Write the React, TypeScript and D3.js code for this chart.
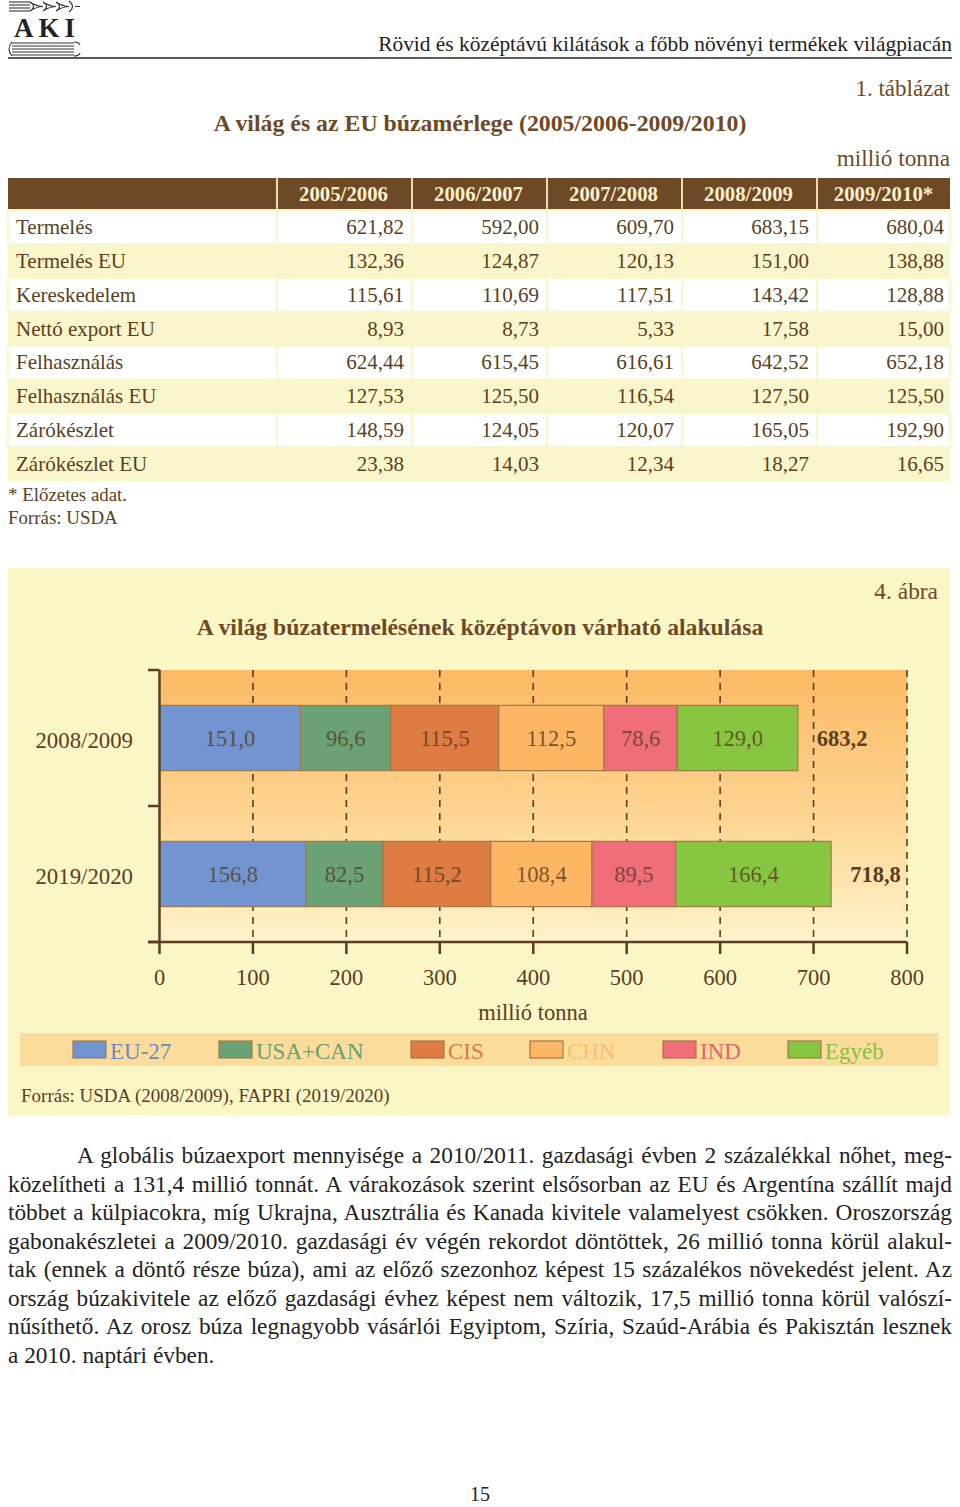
import React, { useLayoutEffect, useRef } from "react";
import * as d3 from "d3";

// ---------- Data ----------
const tableYears = ["2005/2006", "2006/2007", "2007/2008", "2008/2009", "2009/2010*"];
const tableRowLabels = [
  "Termelés",
  "Termelés EU",
  "Kereskedelem",
  "Nettó export EU",
  "Felhasználás",
  "Felhasználás EU",
  "Zárókészlet",
  "Zárókészlet EU",
];
const termeles = [621.82, 592.0, 609.7, 683.15, 680.04];
const termelesEU = [132.36, 124.87, 120.13, 151.0, 138.88];
const kereskedelem = [115.61, 110.69, 117.51, 143.42, 128.88];
const nettoExportEU = [8.93, 8.73, 5.33, 17.58, 15.0];
const felhasznalas = [624.44, 615.45, 616.61, 642.52, 652.18];
const felhasznalasEU = [127.53, 125.5, 116.54, 127.5, 125.5];
const zarokeszlet = [148.59, 124.05, 120.07, 165.05, 192.9];
const zarokeszletEU = [23.38, 14.03, 12.34, 18.27, 16.65];
const tableValues = [termeles, termelesEU, kereskedelem, nettoExportEU, felhasznalas, felhasznalasEU, zarokeszlet, zarokeszletEU];

const categories = ["2008/2009", "2019/2020"];
const seriesNames = ["EU-27", "USA+CAN", "CIS", "CHN", "IND", "Egyéb"];
const values2008 = [151.0, 96.6, 115.5, 112.5, 78.6, 129.0];
const values2019 = [156.8, 82.5, 115.2, 108.4, 89.5, 166.4];
const xTicks = [0, 100, 200, 300, 400, 500, 600, 700, 800];

const paragraphLines = [
  "A globális búzaexport mennyisége a 2010/2011. gazdasági évben 2 százalékkal nőhet, meg-",
  "közelítheti a 131,4 millió tonnát. A várakozások szerint elsősorban az EU és Argentína szállít majd",
  "többet a külpiacokra, míg Ukrajna, Ausztrália és Kanada kivitele valamelyest csökken. Oroszország",
  "gabonakészletei a 2009/2010. gazdasági év végén rekordot döntöttek, 26 millió tonna körül alakul-",
  "tak (ennek a döntő része búza), ami az előző szezonhoz képest 15 százalékos növekedést jelent. Az",
  "ország búzakivitele az előző gazdasági évhez képest nem változik, 17,5 millió tonna körül valószí-",
  "nűsíthető. Az orosz búza legnagyobb vásárlói Egyiptom, Szíria, Szaúd-Arábia és Pakisztán lesznek",
  "a 2010. naptári évben.",
];

// ---------- Styles ----------
const FONT = "'Liberation Serif', 'Times New Roman', serif";
const BROWN = "#6d4a26";
const TEXT = "#5a3f22";
const seriesColors = ["#7294d0", "#6aa275", "#de7c44", "#fdb664", "#f06e79", "#88c540"];
const legendTextColors = ["#7088c0", "#65a06e", "#dc7a44", "#f5c170", "#de6470", "#86bf45"];

const locale = d3.formatLocale({ decimal: ",", thousands: " ", grouping: [3], currency: ["", ""] });
const fmt2 = locale.format(".2f");
const fmt1 = locale.format(".1f");

function JustifiedLine({ text, x, y, width, justify }: { text: string; x: number; y: number; width: number; justify: boolean }) {
  const ref = useRef<SVGTextElement>(null);
  useLayoutEffect(() => {
    const el = ref.current;
    if (!el || !justify) return;
    el.setAttribute("word-spacing", "0");
    const natural = el.getComputedTextLength();
    const spaces = (text.match(/ /g) || []).length;
    if (spaces > 0) {
      const ws = (width - natural) / spaces;
      el.setAttribute("word-spacing", String(ws));
    }
  }, [text, width, justify]);
  return (
    <text ref={ref} x={x} y={y} fontSize={23.3} fill="#222" style={{ whiteSpace: "pre" }}>
      {text}
    </text>
  );
}

export default function App() {
  // Table scales
  const colX = d3.scaleBand<string>().domain(tableYears).range([277, 952]);
  const rowY = d3.scaleBand<string>().domain(tableRowLabels).range([210, 481]);

  // Chart scales
  const x = d3.scaleLinear().domain([0, 800]).range([159.5, 907]);
  const y = d3.scaleBand<string>().domain(categories).range([670, 942]).paddingInner(0.52).paddingOuter(0.26);
  const rows = categories.map((c, i) => {
    const vals = i === 0 ? values2008 : values2019;
    const obj: any = { cat: c };
    seriesNames.forEach((s, j) => (obj[s] = vals[j]));
    return obj;
  });
  const stack = d3.stack<any>().keys(seriesNames)(rows);
  const totals = categories.map((c, i) => d3.sum(i === 0 ? values2008 : values2019));

  const legendX = [73, 219, 411, 530, 663, 788];

  return (
    <svg width={960} height={1507} style={{ position: "absolute", left: 0, top: 0, display: "block", background: "#fff" }} fontFamily={FONT}>
      <defs>
        <linearGradient id="plotGrad" x1="0" y1="0" x2="0" y2="1">
          <stop offset="0" stopColor="#fcba64" />
          <stop offset="0.5" stopColor="#fdd28e" />
          <stop offset="1" stopColor="#fdf4cb" />
        </linearGradient>
      </defs>

      {/* Logo */}
      <g stroke="#333" fill="none" strokeWidth={1.1}>
        {[2, 5, 8, 11].map((yy) => (
          <line key={yy} x1={9} x2={30} y1={yy} y2={yy} />
        ))}
        {[30, 43, 56].map((xx) => (
          <path key={xx} d={`M${xx},2 q7,4.5 0,9 M${xx},2 q7,4.5 13,4.5 q-6,0 -13,4.5`} />
        ))}
        <path d="M69,1 q7,5.5 0,11 M75,6.5 h5" />
      </g>
      <text x={14} y={37} fontSize={27} fontWeight="bold" fill="#222" letterSpacing={5}>AKI</text>
      <g stroke="#333" fill="none" strokeWidth={1.1}>
        {[43, 46, 49, 52, 55].map((yy) => (
          <line key={yy} x1={12} x2={74} y1={yy} y2={yy} />
        ))}
        <path d="M12,42 q-6,7 0,14 M74,42 q5,0 6,3 M74,56 q5,0 6,-3" />
      </g>

      {/* Header */}
      <text x={952} y={51} fontSize={21.4} textAnchor="end" fill="#222">
        Rövid és középtávú kilátások a főbb növényi termékek világpiacán
      </text>
      <line x1={8} x2={952} y1={58} y2={58} stroke="#222" strokeWidth={1.5} />

      <text x={950} y={96} fontSize={23} textAnchor="end" fill={BROWN}>1. táblázat</text>
      <text x={480} y={131} fontSize={23.8} fontWeight="bold" textAnchor="middle" fill={BROWN}>
        A világ és az EU búzamérlege (2005/2006-2009/2010)
      </text>
      <text x={950} y={166} fontSize={23.3} textAnchor="end" fill={BROWN}>millió tonna</text>

      {/* Table */}
      <rect x={8} y={178} width={942} height={32} fill="#6e4925" />
      {[277, ...tableYears.slice(1).map((yr) => colX(yr)!)].map((xx, i) => (
        <line key={i} x1={xx} x2={xx} y1={178} y2={210} stroke="#e9dcb0" strokeWidth={2} />
      ))}
      {tableYears.map((yr) => (
        <text key={yr} x={colX(yr)! + colX.bandwidth() / 2 - 1} y={201} fontSize={20.8} fontWeight="bold" textAnchor="middle" fill="#fbf0cc">
          {yr}
        </text>
      ))}
      {tableRowLabels.map((lab, i) => {
        const yy = rowY(lab)!;
        const h = rowY.bandwidth();
        const yellow = i % 2 === 1;
        return (
          <g key={lab}>
            <rect x={8} y={yy} width={942} height={h} fill={yellow ? "#faf6cb" : "#ffffff"} stroke={yellow ? "none" : "#faf6cb"} strokeWidth={2} />
            {!yellow &&
              [277, ...tableYears.slice(1).map((yr) => colX(yr)!)].map((xx, k) => (
                <line key={k} x1={xx} x2={xx} y1={yy} y2={yy + h} stroke="#faf6cb" strokeWidth={2} />
              ))}
            <text x={16} y={yy + h / 2 + 7} fontSize={21} fill={TEXT}>{lab}</text>
            {tableValues[i].map((v, j) => (
              <text key={j} x={colX(tableYears[j])! + colX.bandwidth() - 8} y={yy + h / 2 + 7} fontSize={21} textAnchor="end" fill={TEXT}>
                {fmt2(v)}
              </text>
            ))}
          </g>
        );
      })}
      <text x={8} y={501} fontSize={18.9} fill={TEXT}>* Előzetes adat.</text>
      <text x={8} y={524} fontSize={18.9} fill={TEXT}>Forrás: USDA</text>

      {/* Chart panel */}
      <rect x={8} y={568} width={942} height={547} fill="#faf6c6" />
      <text x={938} y={599} fontSize={23.4} textAnchor="end" fill={BROWN}>4. ábra</text>
      <text x={480} y={635} fontSize={23.7} fontWeight="bold" textAnchor="middle" fill={BROWN}>
        A világ búzatermelésének középtávon várható alakulása
      </text>

      <rect x={x(0)} y={670} width={x(800) - x(0)} height={272} fill="url(#plotGrad)" />
      {xTicks.slice(1).map((t) => (
        <line key={t} x1={x(t)} x2={x(t)} y1={670} y2={942} stroke="#5b3d1f" strokeWidth={1.6} strokeDasharray="7,6" />
      ))}

      {stack.map((layer, si) =>
        layer.map((d, ci) => (
          <rect
            key={`${si}-${ci}`}
            x={x(d[0])}
            y={y(categories[ci])}
            width={x(d[1]) - x(d[0])}
            height={y.bandwidth()}
            fill={seriesColors[si]}
            stroke="#a07a48"
            strokeWidth={1.2}
          />
        ))
      )}
      {stack.map((layer, si) =>
        layer.map((d, ci) => (
          <text
            key={`t${si}-${ci}`}
            x={(x(d[0]) + x(d[1])) / 2}
            y={y(categories[ci])! + y.bandwidth() / 2 + 7.5}
            fontSize={22.5}
            textAnchor="middle"
            fill="#5a3e22"
            fillOpacity={0.82}
          >
            {fmt1(d[1] - d[0])}
          </text>
        ))
      )}
      {totals.map((t, ci) => (
        <text key={ci} x={x(t) + 19} y={y(categories[ci])! + y.bandwidth() / 2 + 7.5} fontSize={22.5} fontWeight="bold" fill="#5a3e22">
          {fmt1(t)}
        </text>
      ))}
      {categories.map((c) => (
        <text key={c} x={133} y={y(c)! + y.bandwidth() / 2 + 10} fontSize={22.8} textAnchor="end" fill={TEXT}>
          {c}
        </text>
      ))}

      {/* Axes */}
      <line x1={x(0)} x2={x(0)} y1={670} y2={942} stroke="#5b3d1f" strokeWidth={2.5} />
      {[670, 806, 942].map((yy) => (
        <line key={yy} x1={148} x2={x(0)} y1={yy} y2={yy} stroke="#5b3d1f" strokeWidth={2.5} />
      ))}
      <line x1={148} x2={x(800)} y1={942} y2={942} stroke="#5b3d1f" strokeWidth={2.5} />
      {xTicks.map((t) => (
        <g key={t}>
          <line x1={x(t)} x2={x(t)} y1={942} y2={954} stroke="#5b3d1f" strokeWidth={2.5} />
          <text x={x(t)} y={985} fontSize={22.5} textAnchor="middle" fill={TEXT}>{t}</text>
        </g>
      ))}
      <text x={533} y={1020} fontSize={22.5} textAnchor="middle" fill={TEXT}>millió tonna</text>

      {/* Legend */}
      <rect x={20} y={1033} width={918} height={33} fill="#fcdc9b" />
      {seriesNames.map((s, i) => (
        <g key={s}>
          <rect x={legendX[i]} y={1041} width={33} height={17} fill={seriesColors[i]} stroke="#a07a48" strokeWidth={1.2} />
          <text x={legendX[i] + 37} y={1059} fontSize={23} fill={legendTextColors[i]}>{s}</text>
        </g>
      ))}
      <text x={21} y={1102} fontSize={19} fill={TEXT}>Forrás: USDA (2008/2009), FAPRI (2019/2020)</text>

      {/* Paragraph */}
      {paragraphLines.map((ln, i) => {
        const lx = i === 0 ? 77 : 8;
        const last = i === paragraphLines.length - 1;
        return <JustifiedLine key={i} text={ln} x={lx} y={1163 + i * 28.57} width={952 - lx} justify={!last} />;
      })}

      <text x={480} y={1501} fontSize={20} textAnchor="middle" fill="#222">15</text>
    </svg>
  );
}
